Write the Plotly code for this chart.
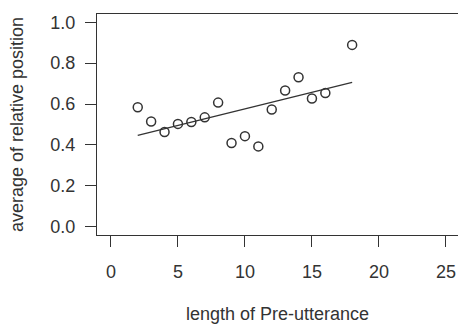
import numpy as np
import plotly.graph_objects as go

# Data
pre_len = [2, 3, 4, 5, 6, 7, 8, 9, 10, 11, 12, 13, 14, 15, 16, 18]
avg_pos = [0.584, 0.515, 0.463, 0.503, 0.512, 0.535, 0.607, 0.410,
           0.443, 0.393, 0.573, 0.666, 0.731, 0.627, 0.654, 0.889]
x_ticks = [0, 5, 10, 15, 20, 25]
y_ticks = [0.0, 0.2, 0.4, 0.6, 0.8, 1.0]
y_tick_text = ["0.0", "0.2", "0.4", "0.6", "0.8", "1.0"]

# Least-squares fit line over the observed x span
slope, intercept = np.polyfit(pre_len, avg_pos, 1)
fit_x = [min(pre_len), max(pre_len)]
fit_y = [intercept + slope * v for v in fit_x]

FONT = "Liberation Sans, Arial, Helvetica, sans-serif"
INK = "#333333"
FS = 18

fig = go.Figure()
fig.add_trace(go.Scatter(
    x=fit_x, y=fit_y, mode="lines",
    line=dict(color=INK, width=1.3), showlegend=False, hoverinfo="skip"))
fig.add_trace(go.Scatter(
    x=pre_len, y=avg_pos, mode="markers",
    marker=dict(symbol="circle-open", size=9, color=INK, line=dict(width=1.5, color=INK)),
    showlegend=False))

fig.update_layout(
    width=458, height=324,
    margin=dict(l=97, r=0, t=14, b=89),
    paper_bgcolor="white", plot_bgcolor="white",
    font=dict(family=FONT, size=FS, color=INK),
    xaxis=dict(
        range=[-1.04, 25.9], tickvals=x_ticks, ticks="outside", ticklen=11,
        tickwidth=1.3, tickcolor=INK, showline=True, linecolor=INK, linewidth=1.3,
        mirror=True, showgrid=False, zeroline=False, ticklabeloverflow="allow",
        tickfont=dict(family=FONT, size=FS, color=INK), ticklabelstandoff=9,
        title=dict(text="length of Pre-utterance", standoff=26,
                   font=dict(family=FONT, size=FS, color=INK)),
        automargin=False),
    yaxis=dict(
        range=[-0.04, 1.04], tickvals=y_ticks, ticktext=y_tick_text, ticks="outside",
        ticklen=11, tickwidth=1.3, tickcolor=INK, showline=True, linecolor=INK,
        linewidth=1.3, showgrid=False, zeroline=False,
        tickfont=dict(family=FONT, size=FS, color=INK), ticklabelstandoff=6,
        title=dict(text="average of relative position", standoff=21,
                   font=dict(family=FONT, size=FS, color=INK)),
        automargin=False),
)

# remove the default page margin so the figure fills the window exactly
fig.write_html("out.html",
               config={"displayModeBar": False},
               post_script="document.body.style.margin='0';document.body.style.overflow='hidden';")
